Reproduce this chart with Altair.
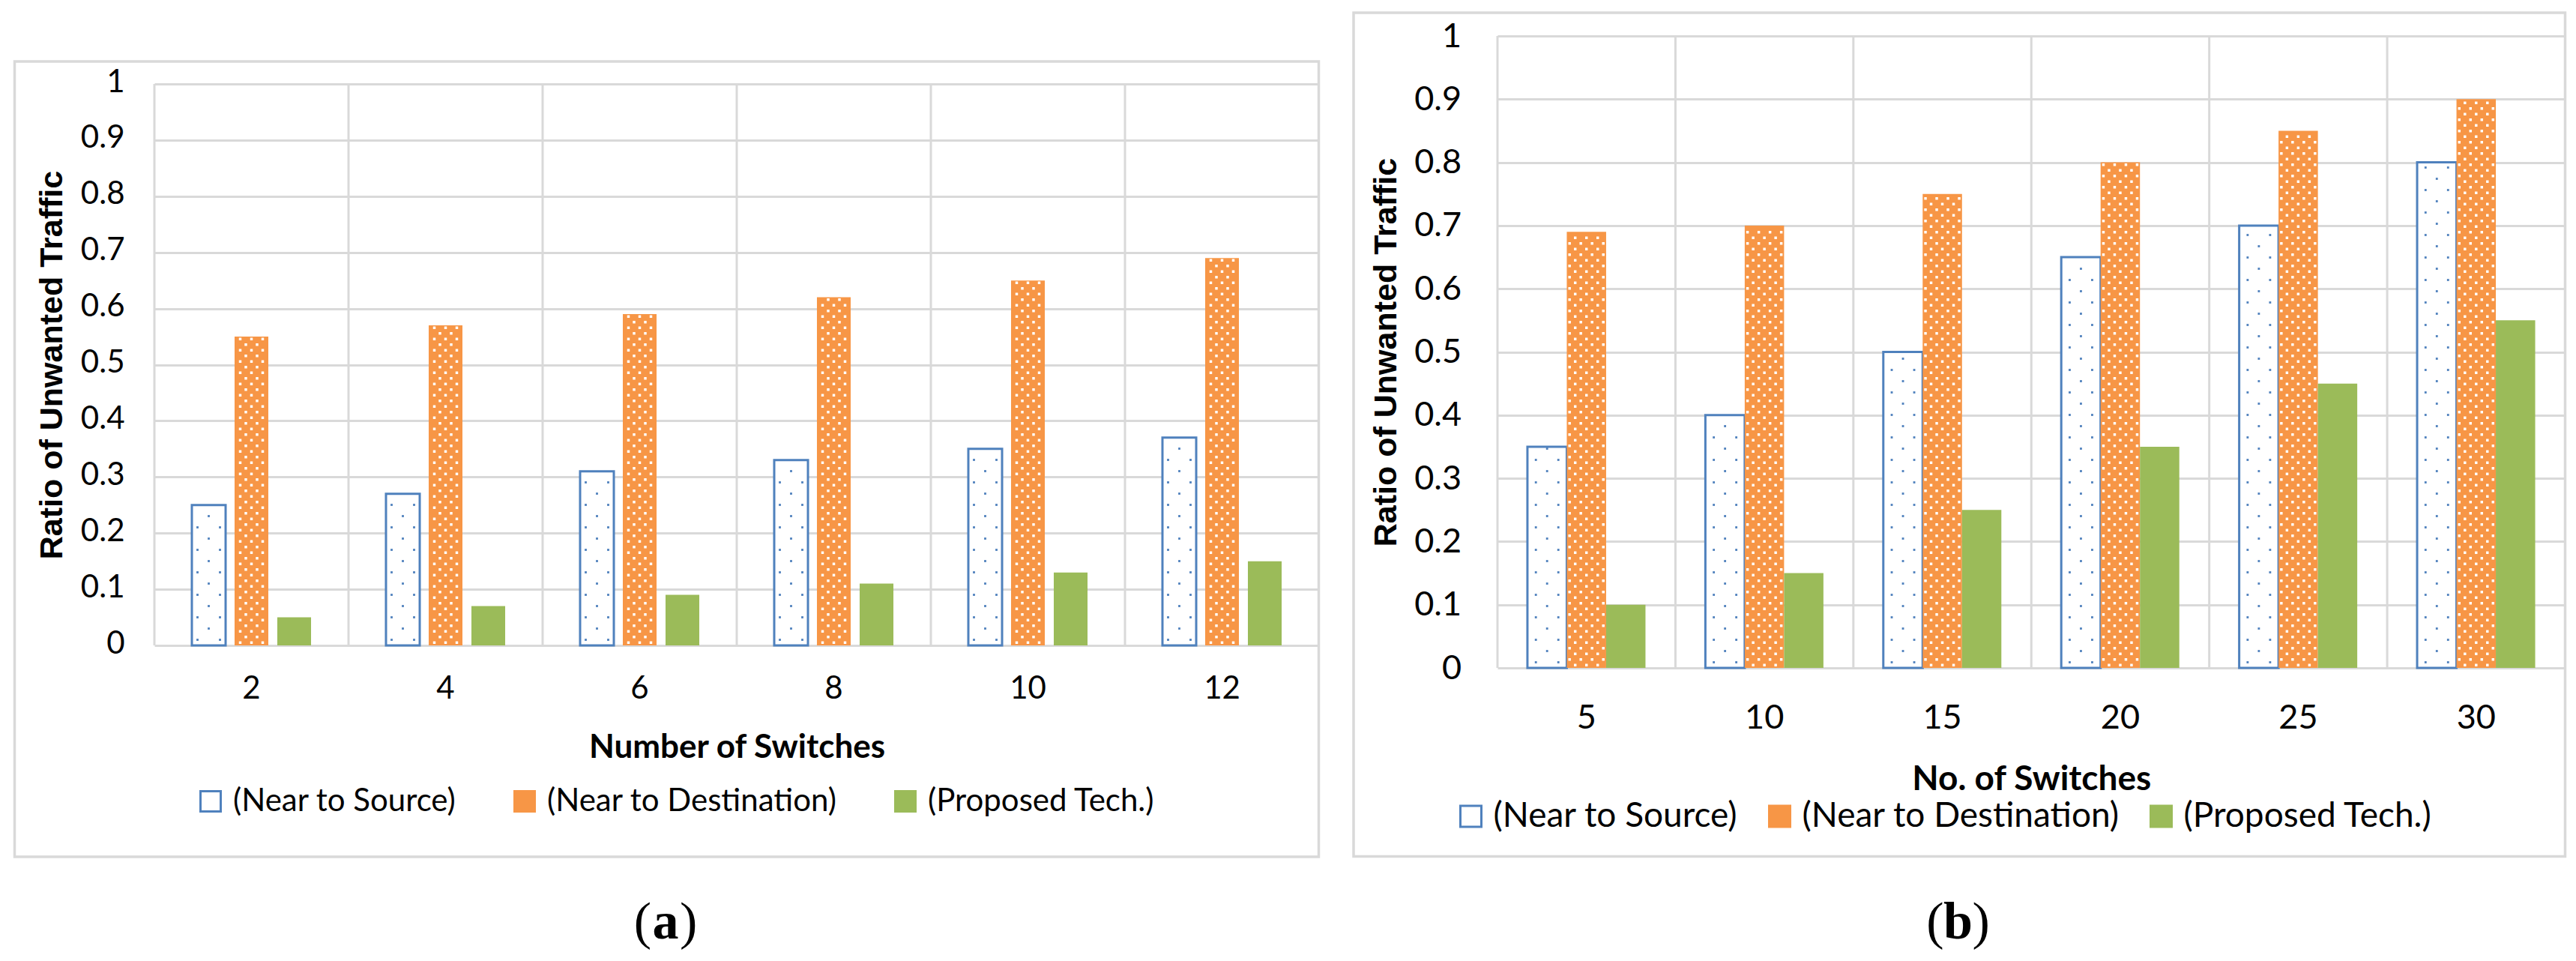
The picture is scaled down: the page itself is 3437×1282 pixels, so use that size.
import altair as alt
import pandas as pd

# ---------------- data ----------------
SERIES = ["(Near to Source)", "(Near to Destination)", "(Proposed Tech.)"]
FILL_COLORS = ["#FFFFFF", "#F79646", "#9BBB59"]
STROKE_COLORS = ["#4F81BD", "#F79646", "#9BBB59"]

A_SWITCHES = ["2", "4", "6", "8", "10", "12"]
A_SOURCE = [0.25, 0.27, 0.31, 0.33, 0.35, 0.37]
A_DEST = [0.55, 0.57, 0.59, 0.62, 0.65, 0.69]
A_PROP = [0.05, 0.07, 0.09, 0.11, 0.13, 0.15]

B_SWITCHES = ["5", "10", "15", "20", "25", "30"]
B_SOURCE = [0.35, 0.40, 0.50, 0.65, 0.70, 0.80]
B_DEST = [0.69, 0.70, 0.75, 0.80, 0.85, 0.90]
B_PROP = [0.10, 0.15, 0.25, 0.35, 0.45, 0.55]

Y_TICKS = [0.0, 0.1, 0.2, 0.3, 0.4, 0.5, 0.6, 0.7, 0.8, 0.9, 1.0]

GRID = "#D9D9D9"
TEXT_FONT = "Lato"
YTITLE_FONT = "Liberation Sans"
CAPTION_FONT = "Liberation Serif"


def long_df(switches, src, dst, prop):
    rows = []
    for name, vals in zip(SERIES, [src, dst, prop]):
        for sw, v in zip(switches, vals):
            rows.append({"switch": sw, "series": name, "value": v})
    return pd.DataFrame(rows)


def panel(switches, src, dst, prop, s):
    df = long_df(switches, src, dst, prop)
    cats = pd.DataFrame({"switch": switches})
    one = pd.DataFrame({"k": [0]})
    W, H = s["W"], s["H"]
    y_bot, y_top = s["yrange"]
    px_unit = y_bot - y_top  # pixels per 1.0 of value
    band = W / len(switches)
    step = band / (len(SERIES) - s["pi"] + 2 * s["po"])  # bar pitch inside a group

    x_axis = alt.Axis(
        title=s["xtitle"], labelAngle=0, ticks=False, tickSize=0, domain=False,
        grid=False, labelPadding=s["xLabPad"], labelBaseline="middle",
        labelFont=TEXT_FONT, labelFontSize=s["fs"], labelColor="#000000",
        titleFont=TEXT_FONT, titleFontSize=s["xtFs"], titleFontWeight="bold",
        titleColor="#000000", titleX=W / 2, titleY=s["xtY"],
        titleBaseline="middle", titleAlign="center",
    )
    x_scale = alt.Scale(paddingInner=0, paddingOuter=0)
    xo_scale = alt.Scale(domain=SERIES, paddingInner=s["pi"], paddingOuter=s["po"])
    y_scale = alt.Scale(domain=[0, 1], nice=False, range=[y_bot, y_top])
    y_axis = alt.Axis(
        values=Y_TICKS, format=".1~f", grid=True, gridColor=GRID, gridWidth=3,
        domain=False, ticks=False, tickSize=0, labelPadding=s["yLabPad"],
        labelFont=TEXT_FONT, labelFontSize=s["fs"], labelColor="#000000",
        labelOffset=s["yLabOff"],
        title="Ratio of Unwanted Traffic", titleFont=YTITLE_FONT,
        titleFontSize=s["ytFs"], titleFontWeight="bold", titleColor="#000000",
        titleX=s["ytX"], titleY=(y_bot + y_top) / 2, titleAngle=270,
        titleBaseline="middle", titleAlign="center",
    )

    extent = alt.Chart(one).mark_rect(opacity=0).encode(
        x=alt.value(s["ext"][0]), x2=alt.value(s["ext"][1]),
        y=alt.value(s["ext"][2]), y2=alt.value(s["ext"][3]),
    )
    border = alt.Chart(one).mark_rect(fillOpacity=0, stroke=GRID, strokeWidth=3.5).encode(
        x=alt.value(s["border"][0]), x2=alt.value(s["border"][1]),
        y=alt.value(s["border"][2]), y2=alt.value(s["border"][3]),
    )
    vgrid = alt.Chart(cats).mark_rule(color=GRID, strokeWidth=3).encode(
        x=alt.X("switch:N", sort=switches, bandPosition=0, scale=x_scale, axis=x_axis),
        y=alt.value(y_top), y2=alt.value(y_bot),
    )

    leg = alt.Legend(
        title=None, orient="none", legendX=s["legX"], legendY=s["legY"],
        direction="horizontal", symbolType="square", symbolSize=s["symSize"],
        symbolStrokeWidth=3, labelFont=TEXT_FONT, labelFontSize=s["legFs"],
        labelColor="#000000", labelLimit=1000, labelOffset=s["labOff"],
        columnPadding=s["colPad"], padding=0,
    )

    bars = alt.Chart(df).mark_bar().encode(
        x=alt.X("switch:N", sort=switches, scale=x_scale, axis=x_axis),
        xOffset=alt.XOffset("series:N", sort=SERIES, scale=xo_scale),
        y=alt.Y("value:Q", scale=y_scale, axis=y_axis),
        fill=alt.Fill("series:N", sort=SERIES,
                      scale=alt.Scale(domain=SERIES, range=FILL_COLORS), legend=leg),
        stroke=alt.Stroke("series:N", sort=SERIES,
                          scale=alt.Scale(domain=SERIES, range=STROKE_COLORS), legend=leg),
        strokeWidth=alt.condition(alt.datum.series == SERIES[0], alt.value(3), alt.value(0)),
    )

    # dotted texture of the patterned bars (pixel pattern converted to value steps)
    def dot_layers(series_idx, row_px, offsets_a, offsets_b, color, size):
        series_name = SERIES[series_idx]
        centre = (series_idx - 1) * step
        r = row_px / px_unit
        top_gap = 2.5 / px_unit
        layers = []
        for start, offs in ((0.5 * r, offsets_a), (1.5 * r, offsets_b)):
            expr = f"sequence({start}, datum.value - {top_gap}, {2 * r})"
            for off in offs:
                layers.append(
                    alt.Chart(df)
                    .transform_filter(alt.datum.series == series_name)
                    .transform_calculate(dots=expr)
                    .transform_flatten(["dots"])
                    .mark_square(color=color, size=size, opacity=1, xOffset=centre + off)
                    .encode(
                        x=alt.X("switch:N", sort=switches, bandPosition=0.5,
                                scale=x_scale, axis=x_axis),
                        y=alt.Y("dots:Q", scale=y_scale, axis=y_axis),
                    )
                )
        return layers

    dots = []
    dots += dot_layers(1, 7.5, [-15, 0, 15], s["orangeB"], "#FFFFFF", 12)
    dots += dot_layers(0, 15, [-15, 15], [0], "#4F81BD", 8)

    cx, cy = s["capX"], s["capY"]
    cap_l = alt.Chart(one).mark_text(font=CAPTION_FONT, fontSize=70, align="right",
                                     baseline="alphabetic", color="#000000").encode(
        x=alt.value(cx - 19), y=alt.value(cy), text=alt.value("("))
    cap_m = alt.Chart(one).mark_text(font=CAPTION_FONT, fontSize=70, fontWeight="bold",
                                     align="center", baseline="alphabetic",
                                     color="#000000").encode(
        x=alt.value(cx), y=alt.value(cy), text=alt.value(s["cap"]))
    cap_r = alt.Chart(one).mark_text(font=CAPTION_FONT, fontSize=70, align="left",
                                     baseline="alphabetic", color="#000000").encode(
        x=alt.value(cx + 19), y=alt.value(cy), text=alt.value(")"))

    return alt.layer(extent, border, vgrid, bars, *dots, cap_l, cap_m, cap_r).properties(
        width=W, height=H
    )


# both panels share the same plot-area top (page y 48); panel (a) maps its
# value axis into a sub-range of that area
spec_a = dict(
    W=1554, H=843, yrange=(813, 64), xtitle="Number of Switches", cap="a",
    ext=(-197.5, 1575.5, -40, 1224), border=(-186.5, 1553.5, 34, 1095),
    fs=42, xtFs=44, ytFs=43, legFs=42,
    xLabPad=27.5, yLabPad=40, yLabOff=-3, xtY=106.6, ytX=-137,
    legX=54, legY=1000, symSize=729, labOff=9, colPad=70,
    pi=0.21, po=0.877, capX=682, capY=1204, orangeB=[-7.5, 7.5],
)
spec_b = dict(
    W=1424.5, H=843, yrange=(843, 0), xtitle="No. of Switches", cap="b",
    ext=(-215.5, 1430.5, -40, 1224), border=(-192, 1424.5, -31, 1094.5),
    fs=45, xtFs=46, ytFs=43, legFs=46,
    xLabPad=66, yLabPad=48.5, yLabOff=0, xtY=148.5, ytX=-149,
    legX=-58.5, legY=1018, symSize=784, labOff=7, colPad=32,
    pi=0.0, po=0.761, capX=614.5, capY=1204, orangeB=[-22.5, -7.5, 7.5, 22.5],
)

pa = panel(A_SWITCHES, A_SOURCE, A_DEST, A_PROP, spec_a)
pb = panel(B_SWITCHES, B_SOURCE, B_DEST, B_PROP, spec_b)

chart = (
    alt.hconcat(pa, pb, spacing=0)
    .resolve_scale(x="independent", y="independent", xOffset="independent",
                   fill="independent", stroke="independent")
    .resolve_legend(fill="independent", stroke="independent")
    .properties(padding=0, background="#FFFFFF")
    .configure_view(strokeWidth=0)
)

chart.save("out.html", embed_options={"renderer": "svg", "actions": False})
